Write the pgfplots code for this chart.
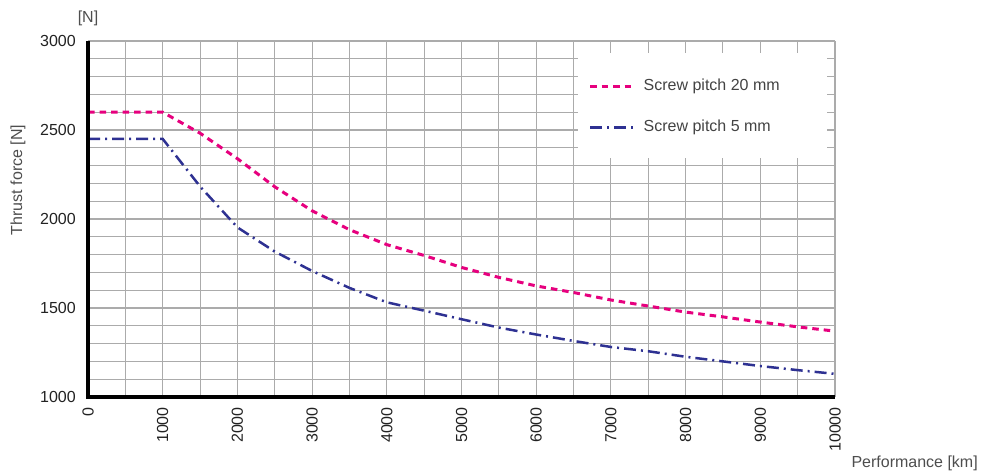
\documentclass[border=0pt]{standalone}
\usepackage{pgfplots}
\pgfplotsset{compat=1.18}
\usepackage{fontspec}
\setmainfont{Liberation Sans}
\definecolor{pinkc}{HTML}{E6007E}
\definecolor{bluec}{HTML}{2E3192}
\definecolor{gridc}{HTML}{ABABAB}
\definecolor{txtc}{HTML}{222222}
\begin{document}
\fontsize{16}{19}\selectfont
\begin{tikzpicture}
\useasboundingbox (0,0) rectangle (983pt,474pt);
\begin{axis}[
  at={(88pt,77pt)}, anchor=south west,
  scale only axis, width=747pt, height=356pt,
  xmin=0, xmax=10000, ymin=1000, ymax=3000,
  clip mode=individual,
  xtick={0,1000,2000,3000,4000,5000,6000,7000,8000,9000,10000},
  minor xtick={500,1500,2500,3500,4500,5500,6500,7500,8500,9500},
  ytick={1000,1500,2000,2500,3000},
  minor ytick={1100,1200,1300,1400,1600,1700,1800,1900,2100,2200,2300,2400,2600,2700,2800,2900},
  scaled x ticks=false, scaled y ticks=false,
  grid=both,
  major grid style={gridc, line width=1.05pt},
  minor grid style={gridc, line width=1.05pt},
  axis line style={draw=none},
  major tick length=0pt, minor tick length=0pt,
  /pgf/number format/assume math mode=true,
  /pgf/number format/1000 sep={},
  tick label style={font=\fontsize{16}{19}\selectfont, text=txtc},
  yticklabel style={anchor=east, inner sep=0pt},
  yticklabel shift=12pt,
  xticklabel style={rotate=90, anchor=east, inner sep=0pt},
  xticklabel shift=10pt,
  xlabel={Performance [km]},
  xlabel style={at={(axis description cs:1.1914,-0.1854)}, anchor=east, inner sep=0pt, font=\fontsize{16}{19}\selectfont, text=txtc!80!white},
  ylabel={Thrust force [N]},
  ylabel style={at={(axis description cs:-0.0937,0.6096)}, anchor=center, inner sep=0pt, font=\fontsize{16}{19}\selectfont, text=txtc!80!white},
  legend cell align=left,
  legend image code/.code={\draw[#1] (0pt,0pt) -- (43pt,0pt);},
  legend style={at={(axis cs:6700,2630)}, anchor=west, draw=none, fill=none, inner sep=0pt,
    nodes={inner sep=0pt, text=txtc!85!white, font=\fontsize{16}{19}\selectfont},
    /tikz/column sep=9pt, /tikz/row sep=27pt},
]
\fill[white] (axis cs:6560,2933) rectangle (axis cs:9893,2343);
\addplot[pinkc, line width=3pt, dash pattern=on 6.5pt off 5pt] coordinates {
(0,2600) (1000,2600) (1500,2482) (2000,2339) (2500,2181) (3000,2046) (3500,1940)
(4000,1856) (4500,1795) (5000,1728) (5500,1672) (6000,1624) (6500,1587) (7000,1545)
(7500,1511) (8000,1477) (8500,1450) (9000,1421) (9500,1394) (10000,1370)};
\addlegendentry{Screw pitch 20 mm}
\addplot[bluec, line width=2.5pt, dash pattern=on 12pt off 5pt on 2pt off 5pt] coordinates {
(0,2450) (1000,2450) (1500,2183) (2000,1953) (2500,1817) (3000,1708) (3500,1613)
(4000,1532) (4500,1485) (5000,1437) (5500,1390) (6000,1351) (6500,1315) (7000,1281)
(7500,1257) (8000,1226) (8500,1200) (9000,1174) (9500,1151) (10000,1130)};
\addlegendentry{Screw pitch 5 mm}
\draw[black, line width=4pt] (rel axis cs:0,1) -- (rel axis cs:0,0) -- (rel axis cs:1,0);
\node[text=txtc!80!white, font=\fontsize{16}{19}\selectfont] at (axis description cs:0,1.0646) {[N]};
\end{axis}
\end{tikzpicture}
\end{document}
